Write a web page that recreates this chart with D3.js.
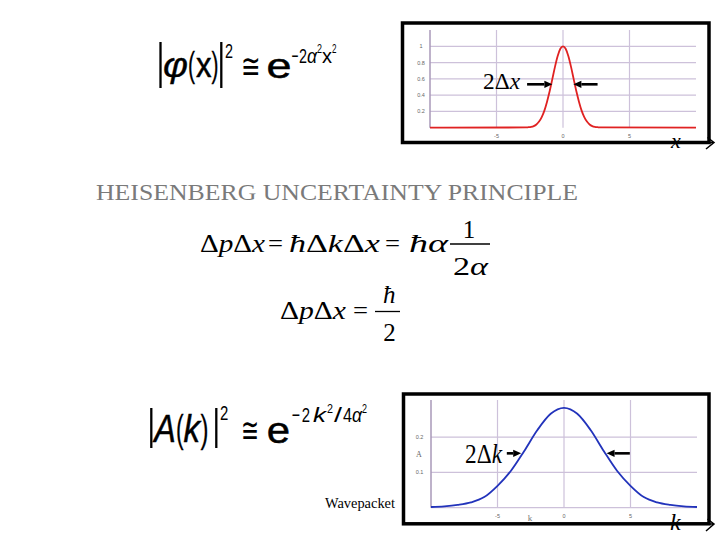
<!DOCTYPE html>
<html><head><meta charset="utf-8">
<script src="https://cdn.jsdelivr.net/npm/d3@7"></script>
<style>html,body{margin:0;padding:0;background:#fff;}svg{display:block;}</style>
</head><body>
<script>
// ---- data ----
const posX = [-10, -2.8, -2.6, -2.4, -2.2, -2.0, -1.8, -1.6, -1.4, -1.2, -1.0, -0.8, -0.6, -0.4, -0.2, 0,
              0.2, 0.4, 0.6, 0.8, 1.0, 1.2, 1.4, 1.6, 1.8, 2.0, 2.2, 2.4, 2.6, 2.8, 10];
const phiSq = [0, 0.003, 0.006, 0.01, 0.02, 0.04, 0.075, 0.13, 0.21, 0.32, 0.45, 0.60, 0.75, 0.88, 0.97, 1.0,
               0.97, 0.88, 0.75, 0.60, 0.45, 0.32, 0.21, 0.13, 0.075, 0.04, 0.02, 0.01, 0.006, 0.003, 0];
const waveK = [-10, -9, -8, -7, -6, -5, -4, -3, -2, -1, 0, 1, 2, 3, 4, 5, 6, 7, 8, 9, 10];
const ampSq = [0.002, 0.004, 0.008, 0.015, 0.03, 0.062, 0.104, 0.16, 0.22, 0.266, 0.283,
               0.266, 0.22, 0.16, 0.104, 0.062, 0.03, 0.015, 0.008, 0.004, 0.002];
const xTicks = [-5, 0, 5];
const xTickLabels = ["-5", "0", "5"];
const topYTicks = [0.2, 0.4, 0.6, 0.8, 1];
const topYTickLabels = ["0.2", "0.4", "0.6", "0.8", "1"];
const botYTicks = [0.1, 0.2];
const botYTickLabels = ["0.1", "0.2"];

const W = 720, H = 540;
const svg = d3.select("body").append("svg").attr("width", W).attr("height", H);
svg.append("rect").attr("width", W).attr("height", H).attr("fill", "#fff");

const gridC = "#cdc1da", axisC = "#a898b8", tickC = "#666";
const serif = "'Liberation Serif','Times New Roman',serif";
const sans = "'Liberation Sans',Arial,sans-serif";

function arrow(g, x1, y1, x2, y2) {
  const ang = Math.atan2(y2 - y1, x2 - x1), L = 8, Wd = 3.6;
  const bx = x2 - L * Math.cos(ang), by = y2 - L * Math.sin(ang);
  g.append("line").attr("x1", x1).attr("y1", y1).attr("x2", bx).attr("y2", by)
    .attr("stroke", "#000").attr("stroke-width", 2.6);
  g.append("path").attr("d",
    `M${x2},${y2}L${bx - Wd * Math.sin(ang)},${by + Wd * Math.cos(ang)}L${bx + Wd * Math.sin(ang)},${by - Wd * Math.cos(ang)}Z`)
    .attr("fill", "#000");
}

// ---- top chart ----
{
  const g = svg.append("g");
  const x = d3.scaleLinear().domain([-10, 10]).range([430, 696]);
  const y = d3.scaleLinear().domain([0, 1]).range([127.7, 46.3]);
  const yTop = 30;
  g.selectAll(".hg").data(topYTicks).join("line")
    .attr("x1", x(-10)).attr("x2", x(10)).attr("y1", d => y(d)).attr("y2", d => y(d))
    .attr("stroke", gridC).attr("stroke-width", 1.2);
  g.selectAll(".vg").data(xTicks).join("line")
    .attr("x1", d => x(d)).attr("x2", d => x(d)).attr("y1", yTop).attr("y2", y(0))
    .attr("stroke", gridC).attr("stroke-width", 1.2);
  g.append("line").attr("x1", x(-10)).attr("x2", x(-10)).attr("y1", yTop).attr("y2", y(0))
    .attr("stroke", axisC).attr("stroke-width", 1.5);
  g.selectAll(".yl").data(topYTicks).join("text")
    .attr("x", 421).attr("y", d => y(d) + 2).attr("text-anchor", "middle")
    .attr("font-family", sans).attr("font-size", 5.5).attr("fill", tickC)
    .text((d, i) => topYTickLabels[i]);
  g.selectAll(".xl").data(xTicks).join("text")
    .attr("x", d => x(d)).attr("y", 138).attr("text-anchor", "middle")
    .attr("font-family", sans).attr("font-size", 5.5).attr("fill", tickC)
    .text((d, i) => xTickLabels[i]);
  const line = d3.line().x(d => x(d[0])).y(d => y(d[1])).curve(d3.curveMonotoneX);
  g.append("path").datum(posX.map((v, i) => [v, phiSq[i]])).attr("d", line)
    .attr("fill", "none").attr("stroke", "#e02222").attr("stroke-width", 1.8);
  arrow(g, x(-2.7), y(0.533), x(-0.8), y(0.533));
  arrow(g, x(2.6), y(0.533), x(0.78), y(0.533));
  g.append("text").attr("x", 483).attr("y", 89).attr("font-family", serif).attr("font-size", 23)
    .attr("textLength", 37).attr("lengthAdjust", "spacingAndGlyphs")
    .call(t => { t.append("tspan").text("2Δ"); t.append("tspan").attr("font-style", "italic").text("x"); });
  g.append("rect").attr("x", 402.5).attr("y", 23).attr("width", 306.5).attr("height", 119.5)
    .attr("fill", "none").attr("stroke", "#000").attr("stroke-width", 3.5);
  g.append("text").attr("x", 671).attr("y", 148).attr("font-family", serif).attr("font-style", "italic")
    .attr("font-size", 22).text("x");
  g.append("path").attr("d", "M700,142.5L714,142.5M707.5,137.5L714,142.5L706,149")
    .attr("fill", "none").attr("stroke", "#000").attr("stroke-width", 1.5);
}

// ---- bottom chart ----
{
  const g = svg.append("g");
  const x = d3.scaleLinear().domain([-10, 10]).range([431, 697]);
  const y = d3.scaleLinear().domain([0, 0.1]).range([507.7, 472.4]);
  const yTop = 400;
  g.selectAll(".hg").data([0].concat(botYTicks)).join("line")
    .attr("x1", x(-10)).attr("x2", x(10)).attr("y1", d => y(d)).attr("y2", d => y(d))
    .attr("stroke", gridC).attr("stroke-width", 1.2);
  g.selectAll(".vg").data(xTicks).join("line")
    .attr("x1", d => x(d)).attr("x2", d => x(d)).attr("y1", yTop).attr("y2", y(0))
    .attr("stroke", gridC).attr("stroke-width", 1.2);
  g.append("line").attr("x1", x(-10)).attr("x2", x(-10)).attr("y1", yTop).attr("y2", y(0))
    .attr("stroke", axisC).attr("stroke-width", 1.5);
  g.selectAll(".yl").data(botYTicks).join("text")
    .attr("x", 419.5).attr("y", d => y(d) + 2).attr("text-anchor", "middle")
    .attr("font-family", sans).attr("font-size", 5.5).attr("fill", tickC)
    .text((d, i) => botYTickLabels[i]);
  g.append("text").attr("x", 419).attr("y", 457).attr("text-anchor", "middle")
    .attr("font-family", serif).attr("font-size", 8).attr("fill", tickC).text("A");
  g.selectAll(".xl").data(xTicks).join("text")
    .attr("x", d => x(d)).attr("y", 518).attr("text-anchor", "middle")
    .attr("font-family", sans).attr("font-size", 5.5).attr("fill", tickC)
    .text((d, i) => xTickLabels[i]);
  g.append("text").attr("x", 530).attr("y", 521).attr("text-anchor", "middle")
    .attr("font-family", serif).attr("font-size", 9).attr("fill", "#777").text("k");
  const line = d3.line().x(d => x(d[0])).y(d => y(d[1])).curve(d3.curveMonotoneX);
  g.append("path").datum(waveK.map((v, i) => [v, ampSq[i]])).attr("d", line)
    .attr("fill", "none").attr("stroke", "#2233bb").attr("stroke-width", 1.8);
  arrow(g, x(-4.3), y(0.154), x(-3.22), y(0.154));
  arrow(g, x(4.95), y(0.154), x(3.2), y(0.154));
  g.append("text").attr("x", 465).attr("y", 463).attr("font-family", serif).attr("font-size", 27)
    .attr("textLength", 37).attr("lengthAdjust", "spacingAndGlyphs")
    .call(t => { t.append("tspan").text("2Δ"); t.append("tspan").attr("font-style", "italic").text("k"); });
  g.append("rect").attr("x", 403.5).attr("y", 394).attr("width", 305.5).attr("height", 129.8)
    .attr("fill", "none").attr("stroke", "#000").attr("stroke-width", 3.5);
  g.append("text").attr("x", 670).attr("y", 530).attr("font-family", serif).attr("font-style", "italic")
    .attr("font-size", 24).text("k");
  g.append("path").attr("d", "M700,524L714,524M707.5,519L714,524L706,531")
    .attr("fill", "none").attr("stroke", "#000").attr("stroke-width", 1.5);
}

// ---- text / formulas ----
function piece(p) {
  const t = svg.append("text").attr("x", p.x).attr("y", p.y)
    .attr("font-family", p.f || sans).attr("font-size", p.s).attr("fill", p.c || "#000")
    .text(p.t);
  if (p.i) t.attr("font-style", "italic");
  if (p.a) t.attr("text-anchor", p.a);
  if (p.tl) t.attr("textLength", p.tl).attr("lengthAdjust", "spacingAndGlyphs");
  if (p.b) t.attr("stroke", "#000").attr("stroke-width", p.b);
  return t;
}
function bar(x, y1, y2, w) {
  svg.append("line").attr("x1", x).attr("x2", x).attr("y1", y1).attr("y2", y2)
    .attr("stroke", "#000").attr("stroke-width", w || 2.3);
}
const eqSym = "'DejaVu Sans',sans-serif";

// |φ(x)|² ≅ e^{-2α²x²}
bar(160.5, 42, 88); bar(221.3, 42, 88);
[
  {t: "φ", x: 163, y: 77, s: 35, i: 1, tl: 25, b: 0.35},
  {t: "(", x: 188, y: 77, s: 35, tl: 7, b: 0.3},
  {t: "x", x: 196, y: 77, s: 35, tl: 15.5, b: 0.5},
  {t: ")", x: 211.5, y: 77, s: 35, tl: 7, b: 0.3},
  {t: "2", x: 225, y: 58, s: 20, tl: 8},
  {t: "≅", x: 241, y: 78, s: 34, f: eqSym, tl: 19.5},
  {t: "e", x: 266.5, y: 77.5, s: 35, tl: 25, b: 0.5},
  {t: "−", x: 291.5, y: 63, s: 21, tl: 7},
  {t: "2", x: 299, y: 63, s: 21, tl: 8},
  {t: "α", x: 307, y: 63, s: 21, i: 1, tl: 10},
  {t: "2", x: 317, y: 53, s: 13, tl: 5},
  {t: "x", x: 322, y: 63, s: 21, tl: 10},
  {t: "2", x: 332, y: 53, s: 13, tl: 4.5}
].forEach(piece);

// title
piece({t: "HEISENBERG UNCERTAINTY PRINCIPLE", x: 96, y: 200, s: 22.5, f: serif, c: "#7a7a7a", tl: 482});

// ΔpΔx = ħΔkΔx = ħα (1/2α)
function mixed(x, y, s, tl, parts) {
  const t = svg.append("text").attr("x", x).attr("y", y).attr("font-family", serif).attr("font-size", s);
  if (tl) t.attr("textLength", tl).attr("lengthAdjust", "spacingAndGlyphs");
  parts.forEach(([txt, it]) => t.append("tspan").attr("font-style", it ? "italic" : "normal").text(txt));
  return t;
}
mixed(200, 252, 25, 65, [["Δ"], ["p", 1], ["Δ"], ["x", 1]]);
piece({t: "=", x: 268, y: 252, s: 25, f: serif, tl: 15});
mixed(289, 252, 25, 91, [["ħ", 1], ["Δ"], ["k", 1], ["Δ"], ["x", 1]]);
piece({t: "=", x: 385, y: 252, s: 25, f: serif, tl: 15});
mixed(409, 252, 25, 39, [["ħ", 1], ["α", 1]]);
piece({t: "1", x: 469, y: 238, s: 25, f: serif, a: "middle"});
svg.append("line").attr("x1", 450).attr("x2", 490).attr("y1", 244).attr("y2", 244).attr("stroke", "#000").attr("stroke-width", 1.3);
mixed(453, 275, 25, 35, [["2"], ["α", 1]]);

// ΔpΔx = ħ/2
mixed(280, 319, 25, 66, [["Δ"], ["p", 1], ["Δ"], ["x", 1]]);
piece({t: "=", x: 353, y: 319, s: 25, f: serif, tl: 15});
mixed(383, 303, 25, null, [["ħ", 1]]);
svg.append("line").attr("x1", 375).attr("x2", 400).attr("y1", 311.5).attr("y2", 311.5).attr("stroke", "#000").attr("stroke-width", 1.3);
piece({t: "2", x: 389.5, y: 341, s: 25, f: serif, a: "middle"});

// |A(k)|² ≅ e^{-2k²/4α²}
bar(151.3, 408, 448); bar(216.3, 408, 448);
[
  {t: "A", x: 154.3, y: 442, s: 39, i: 1, tl: 21.5, b: 0.5},
  {t: "(", x: 176, y: 442, s: 39, tl: 7.6, b: 0.3},
  {t: "k", x: 183.5, y: 442, s: 39, i: 1, tl: 16.5, b: 0.5},
  {t: ")", x: 200.5, y: 442, s: 39, tl: 8, b: 0.3},
  {t: "2", x: 220, y: 420, s: 20, tl: 8.3},
  {t: "≅", x: 241, y: 442, s: 34, f: eqSym, tl: 18},
  {t: "e", x: 266.7, y: 443, s: 37, tl: 23.3, b: 0.5},
  {t: "−", x: 291.7, y: 422, s: 21, tl: 8.3},
  {t: "2", x: 301.7, y: 422, s: 21, tl: 8.3},
  {t: "k", x: 313, y: 422, s: 21, i: 1, tl: 13},
  {t: "2", x: 327, y: 413, s: 13, tl: 6},
  {t: "/", x: 334, y: 422, s: 21, tl: 8},
  {t: "4", x: 343, y: 422, s: 21, tl: 9},
  {t: "α", x: 352, y: 422, s: 21, i: 1, tl: 10},
  {t: "2", x: 362, y: 413, s: 13, tl: 5}
].forEach(piece);

piece({t: "Wavepacket", x: 325, y: 508, s: 14, f: serif, tl: 70});
</script>
</body></html>
